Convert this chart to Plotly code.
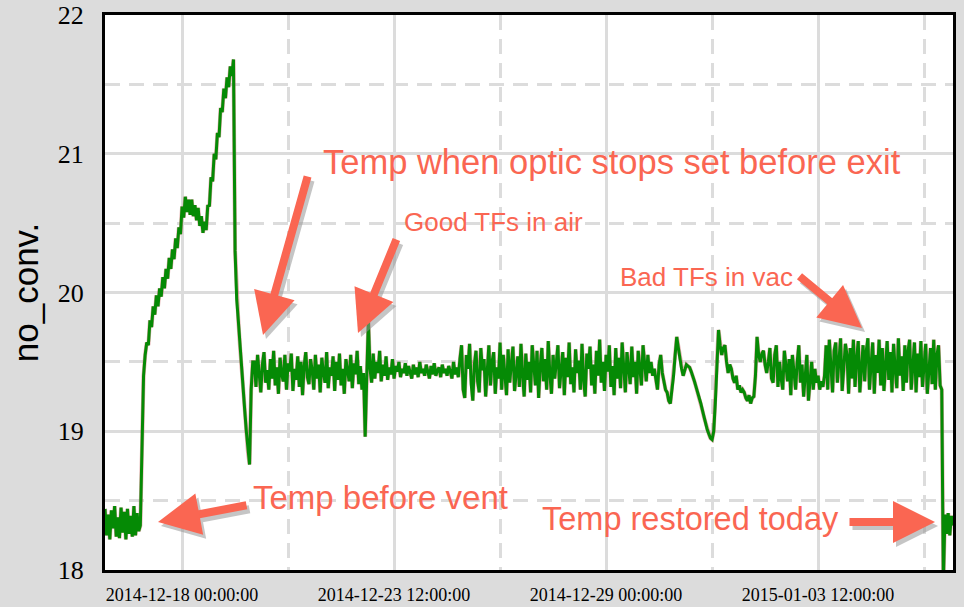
import pandas as pd
import plotly.graph_objects as go

# ---------------- data ----------------
start_time = "2014-12-16 00:00"
sample_step = "1h"

temp_before_vent = [
    18.44, 18.25, 18.40, 18.22, 18.43, 18.30, 18.46, 18.24, 18.38, 18.23,
    18.45, 18.27, 18.42, 18.22, 18.44, 18.26, 18.39, 18.24, 18.46, 18.25,
    18.41, 18.28,
    18.32, 18.90, 19.40, 19.55,
]
temp_warmup = [
    19.64, 19.62, 19.80, 19.75, 19.90, 19.84, 19.98, 19.90, 20.03, 19.97,
    20.11, 20.03, 20.17, 20.10, 20.25, 20.17, 20.31, 20.24, 20.39, 20.32,
    20.47, 20.42, 20.62, 20.54, 20.69, 20.58, 20.67, 20.56, 20.67, 20.55,
    20.63, 20.52, 20.61, 20.48, 20.55, 20.43, 20.51, 20.45, 20.63, 20.62,
    20.83, 20.80, 21.00, 20.96, 21.15, 21.12, 21.33, 21.30, 21.47, 21.40,
    21.55, 21.48, 21.63, 21.56, 21.68,
    20.30, 19.95, 19.80, 19.62, 19.45, 19.30, 19.15, 19.00, 18.85, 18.76,
    19.30, 19.50,
]
temp_optic_stops = [
    19.50, 19.32, 19.55, 19.40, 19.28, 19.48, 19.57, 19.35, 19.44, 19.30,
    19.52, 19.38, 19.58, 19.33, 19.46, 19.27, 19.53, 19.41, 19.36, 19.55,
    19.30, 19.49, 19.43, 19.56, 19.29, 19.45, 19.37, 19.54, 19.32, 19.50,
    19.26, 19.47, 19.57, 19.39, 19.34, 19.52, 19.44, 19.30, 19.55, 19.38,
    19.48, 19.28, 19.53, 19.42, 19.35, 19.57, 19.31, 19.46, 19.40, 19.54,
    19.29, 19.50, 19.37, 19.56, 19.33, 19.45, 19.27, 19.52, 19.43, 19.36,
    19.55, 19.31, 19.49, 19.41, 19.58, 19.34, 19.47, 19.30, 19.42,
    18.96, 19.40, 19.80, 19.45, 19.35,
]
temp_good_tfs = [
    19.56, 19.38, 19.50, 19.42, 19.58, 19.36, 19.48, 19.40, 19.54, 19.37,
    19.46, 19.41, 19.52, 19.38, 19.47, 19.43, 19.50, 19.39, 19.45, 19.42,
    19.49, 19.40, 19.47, 19.43, 19.38, 19.48, 19.41, 19.46, 19.39, 19.50,
    19.42, 19.45, 19.40, 19.48, 19.43, 19.38, 19.47, 19.41, 19.49, 19.40,
    19.44, 19.46, 19.39, 19.48, 19.42, 19.45, 19.40, 19.47, 19.43, 19.38,
    19.50, 19.41, 19.46, 19.39, 19.52,
]
temp_noisy = [
    19.62, 19.30, 19.24, 19.55, 19.45, 19.63, 19.34, 19.22, 19.48, 19.58,
    19.36, 19.28, 19.60, 19.44, 19.52, 19.25, 19.40, 19.62, 19.33, 19.50,
    19.57, 19.27, 19.46, 19.38, 19.64, 19.30, 19.55, 19.42, 19.26, 19.59,
    19.35, 19.48, 19.61, 19.29, 19.44, 19.54, 19.32, 19.63, 19.40, 19.25,
    19.56, 19.37, 19.50, 19.28, 19.62, 19.45, 19.33, 19.58, 19.24, 19.47,
    19.60, 19.36, 19.52, 19.30, 19.65, 19.41, 19.27, 19.55, 19.38, 19.49,
    19.62, 19.31, 19.44, 19.57, 19.26, 19.53, 19.39, 19.64, 19.34, 19.46,
    19.28, 19.59, 19.42, 19.51, 19.30, 19.63, 19.37, 19.25, 19.56, 19.45,
    19.61, 19.33, 19.48, 19.27, 19.58, 19.40, 19.66, 19.35, 19.50, 19.29,
    19.55, 19.43, 19.62, 19.32, 19.47, 19.26, 19.60, 19.38, 19.53, 19.31,
    19.64, 19.41, 19.28, 19.57, 19.46, 19.34, 19.61, 19.39, 19.50, 19.27,
    19.58, 19.44, 19.33, 19.62, 19.48, 19.36, 19.55, 19.42, 19.50, 19.40,
]
temp_swings = [
    19.45, 19.38, 19.30, 19.48, 19.55, 19.42, 19.35, 19.30, 19.28, 19.22,
    19.20, 19.30, 19.40, 19.55, 19.68, 19.60, 19.52, 19.45, 19.40, 19.44,
    19.48, 19.47, 19.46, 19.43, 19.40, 19.36, 19.32, 19.28, 19.25, 19.20,
    19.15, 19.10, 19.05, 19.01, 18.98, 18.95, 18.94, 19.00, 19.20, 19.50,
    19.73, 19.62, 19.55, 19.60, 19.62, 19.50, 19.42, 19.48, 19.45, 19.38,
    19.35, 19.40, 19.30, 19.33, 19.28, 19.30, 19.28, 19.24, 19.22, 19.26,
    19.20, 19.24, 19.25, 19.40, 19.68, 19.55, 19.50, 19.56, 19.58, 19.48,
    19.42, 19.50, 19.60, 19.38, 19.35, 19.55, 19.62, 19.32, 19.50, 19.38,
    19.30, 19.58, 19.45, 19.36, 19.52, 19.26, 19.55, 19.40, 19.30, 19.50,
    19.62, 19.35, 19.48, 19.25, 19.42, 19.55, 19.22, 19.40, 19.50, 19.30,
    19.45, 19.35, 19.40, 19.30, 19.36, 19.32, 19.40,
]
temp_bad_tfs = [
    19.62, 19.30, 19.66, 19.45, 19.28, 19.58, 19.64, 19.35, 19.50, 19.67,
    19.29, 19.44, 19.63, 19.55, 19.27, 19.60, 19.38, 19.66, 19.32, 19.52,
    19.65, 19.28, 19.46, 19.62, 19.36, 19.58, 19.67, 19.30, 19.48, 19.64,
    19.27, 19.55, 19.42, 19.66, 19.33, 19.60, 19.29, 19.50, 19.65, 19.37,
    19.57, 19.28, 19.63, 19.45, 19.31, 19.67, 19.40, 19.54, 19.29, 19.62,
    19.35, 19.58, 19.66, 19.30, 19.47, 19.64, 19.28, 19.56, 19.39, 19.65,
    19.32, 19.52, 19.63, 19.27, 19.45, 19.60, 19.34, 19.66, 19.30, 19.55,
    19.62, 19.33,
    19.30, 17.90,
]
temp_restored = [18.40, 18.26, 18.41, 18.25, 18.39, 18.32]

x_range = ["2014-12-16 00:00", "2015-01-07 00:00"]
y_range = [18, 22]
y_title = "no_conv."

annotation_texts = [
    "Temp when optic stops set before exit",
    "Good TFs in air",
    "Bad TFs in vac",
    "Temp before vent",
    "Temp restored today",
]

temp_values = (temp_before_vent + temp_warmup + temp_optic_stops + temp_good_tfs
               + temp_noisy + temp_swings + temp_bad_tfs + temp_restored)
times = pd.date_range(start=start_time, periods=len(temp_values), freq=sample_step)

# ---------------- figure ----------------
W, H = 964, 607
L, R, T, B = 105, 11, 15, 37
PW, PH = W - L - R, H - T - B

def px(x):
    return (x - L) / PW

def py(y):
    return (H - B - y) / PH

ACCENT = "#FA6652"
SHADOW = "rgba(150,150,150,0.55)"

fig = go.Figure()
fig.add_trace(go.Scatter(x=times, y=temp_values, mode="lines",
                         line=dict(color="rgba(200,100,100,0.55)", width=4),
                         hoverinfo="skip", showlegend=False))
fig.add_trace(go.Scatter(x=times, y=temp_values, mode="lines",
                         line=dict(color="#058a05", width=3),
                         showlegend=False))

annotations = []
text_specs = [
    (annotation_texts[0], 612, 162, 34.5),
    (annotation_texts[1], 493, 222, 26),
    (annotation_texts[2], 706, 277, 26),
    (annotation_texts[3], 380, 497, 33),
    (annotation_texts[4], 690, 519, 32.5),
]
arrow_specs = [
    (263, 335, 45, -160),
    (358, 333, 39, -95),
    (862, 328, -64, -53),
    (158, 522, 90, -17),
    (935, 522, -87, 0),
]
for (tx, ty, ax, ay) in arrow_specs:
    annotations.append(dict(xref="paper", yref="paper", x=px(tx + 3), y=py(ty + 4),
                            ax=ax, ay=ay, text="", showarrow=True, arrowhead=2,
                            arrowwidth=8, arrowsize=1.05, arrowcolor=SHADOW))
for (tx, ty, ax, ay) in arrow_specs:
    annotations.append(dict(xref="paper", yref="paper", x=px(tx), y=py(ty),
                            ax=ax, ay=ay, text="", showarrow=True, arrowhead=2,
                            arrowwidth=8, arrowsize=1.05, arrowcolor=ACCENT))
for (txt, cx, cy, size) in text_specs:
    annotations.append(dict(xref="paper", yref="paper", x=px(cx), y=py(cy),
                            xanchor="center", yanchor="middle", text=txt,
                            showarrow=False,
                            font=dict(family="Liberation Sans, Arial, sans-serif",
                                      size=size, color=ACCENT)))

grid_col = "#dcdcdc"
fig.update_layout(
    width=W, height=H,
    margin=dict(l=L, r=R, t=T, b=B, autoexpand=False),
    paper_bgcolor="#dcdcdc",
    plot_bgcolor="white",
    showlegend=False,
    annotations=annotations,
    xaxis=dict(
        type="date", range=x_range, automargin=False,
        tick0="2014-12-18 00:00", dtick=5.5 * 86400000,
        tickformat="%Y-%m-%d %H:%M:%S",
        tickfont=dict(family="Liberation Serif, Times New Roman, serif", size=18, color="black"),
        showgrid=True, gridcolor=grid_col, gridwidth=2.5,
        minor=dict(dtick=2.75 * 86400000, tick0="2014-12-18 00:00", showgrid=True,
                   gridcolor=grid_col, gridwidth=2.5, griddash="15px,9px"),
        showline=True, linecolor="black", linewidth=3, mirror=True,
        ticks="", ticklabelstandoff=6, zeroline=False,
    ),
    yaxis=dict(
        range=y_range, dtick=1, tick0=18, automargin=False,
        tickfont=dict(family="Liberation Serif, Times New Roman, serif", size=26, color="black"),
        showgrid=True, gridcolor=grid_col, gridwidth=2.5,
        minor=dict(dtick=0.5, tick0=18, showgrid=True, gridcolor=grid_col,
                   gridwidth=2.5, griddash="15px,9px"),
        showline=True, linecolor="black", linewidth=3, mirror=True,
        ticks="", ticklabelstandoff=13, zeroline=False,
        title=dict(text=y_title, standoff=9,
                   font=dict(family="Liberation Sans, Arial, sans-serif", size=35, color="black")),
    ),
)

fig.write_html(
    "out.html",
    config={"displayModeBar": False},
    post_script=["document.body.style.margin='0px';document.body.style.overflow='hidden';"
                 "document.body.style.background='#dcdcdc';"],
)
